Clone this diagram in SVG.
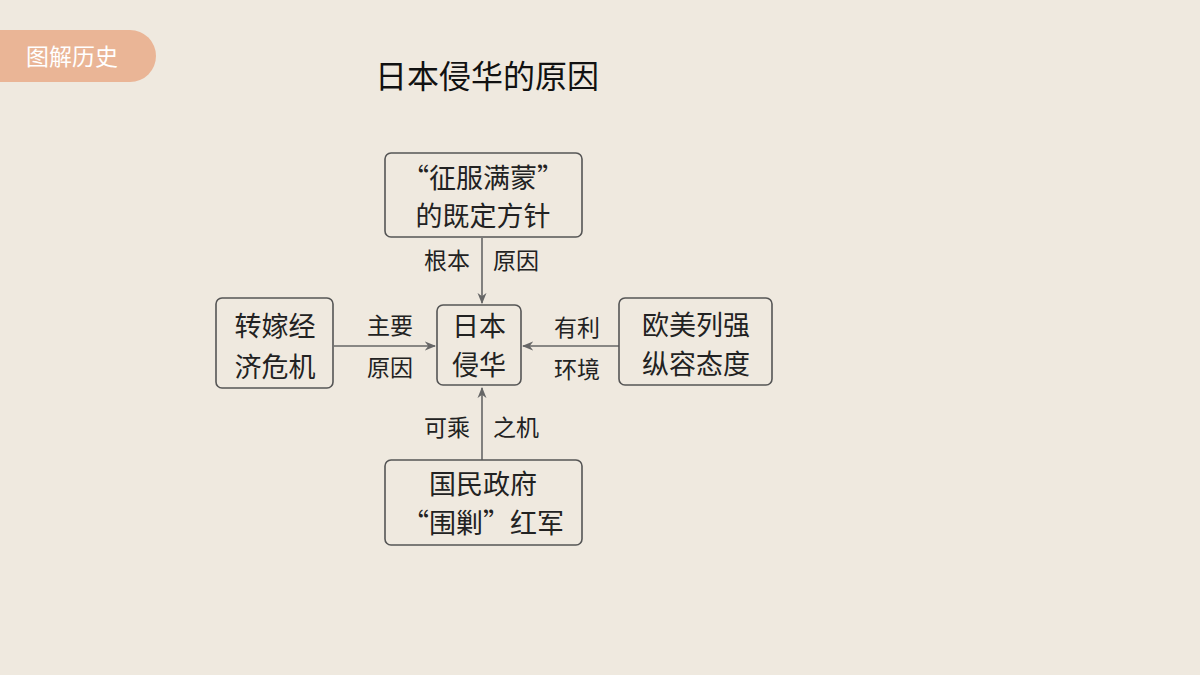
<svg xmlns="http://www.w3.org/2000/svg" width="1200" height="675" viewBox="0 0 1200 675">
<defs>
<marker id="ah" viewBox="0 0 10 10" refX="9" refY="5" markerWidth="7" markerHeight="7" orient="auto"><path d="M0,1 L10,5 L0,9 L3,5 Z" fill="#666"/></marker>
<style>
.box{fill:none;stroke:#555;stroke-width:1.6}
.t{font-family:"Noto Sans CJK SC",sans-serif;font-size:27px;fill:#222;text-anchor:middle}
.l{font-family:"Noto Sans CJK SC",sans-serif;font-size:23px;fill:#222;text-anchor:middle}
.c{stroke:#666;stroke-width:1.6;fill:none;marker-end:url(#ah)}
</style>
</defs>
<rect width="1200" height="675" fill="#efe9df"/>
<g id="badge"><path d="M0,30 H130 A26,26 0 0 1 130,82 H0 Z" fill="#eab596"/><text x="72" y="65" font-family="Noto Sans CJK SC,sans-serif" font-size="23" fill="#fff" text-anchor="middle">图解历史</text></g>
<text x="487" y="88" font-family="Noto Sans CJK SC,sans-serif" font-size="32" fill="#111" text-anchor="middle">日本侵华的原因</text>
<g id="connectors">
<line class="c" x1="482" y1="238" x2="482" y2="303"/>
<line class="c" x1="334" y1="346" x2="435" y2="346"/>
<line class="c" x1="619" y1="346" x2="523" y2="346"/>
<line class="c" x1="482" y1="460" x2="482" y2="388"/>
<text class="l" x="447" y="269">根本</text><text class="l" x="516" y="269">原因</text>
<text class="l" x="390" y="334">主要</text><text class="l" x="390" y="376">原因</text>
<text class="l" x="577" y="336">有利</text><text class="l" x="577" y="378">环境</text>
<text class="l" x="447" y="436">可乘</text><text class="l" x="516" y="436">之机</text>
</g>
<g id="n-top"><rect class="box" x="385" y="153" width="197" height="84" rx="6"/><text class="t" x="483" y="188">“征服满蒙”</text><text class="t" x="483" y="226">的既定方针</text></g>
<g id="n-left"><rect class="box" x="216" y="298" width="117" height="90" rx="6"/><text class="t" x="275" y="336">转嫁经</text><text class="t" x="275" y="377">济危机</text></g>
<g id="n-center"><rect class="box" x="437" y="305" width="84" height="80" rx="6"/><text class="t" x="479" y="336">日本</text><text class="t" x="479" y="375">侵华</text></g>
<g id="n-right"><rect class="box" x="619" y="298" width="153" height="87" rx="6"/><text class="t" x="696" y="335">欧美列强</text><text class="t" x="696" y="374">纵容态度</text></g>
<g id="n-bottom"><rect class="box" x="385" y="460" width="197" height="85" rx="6"/><text class="t" x="483" y="494">国民政府</text><text class="t" x="483" y="533">“围剿”红军</text></g>
</svg>
